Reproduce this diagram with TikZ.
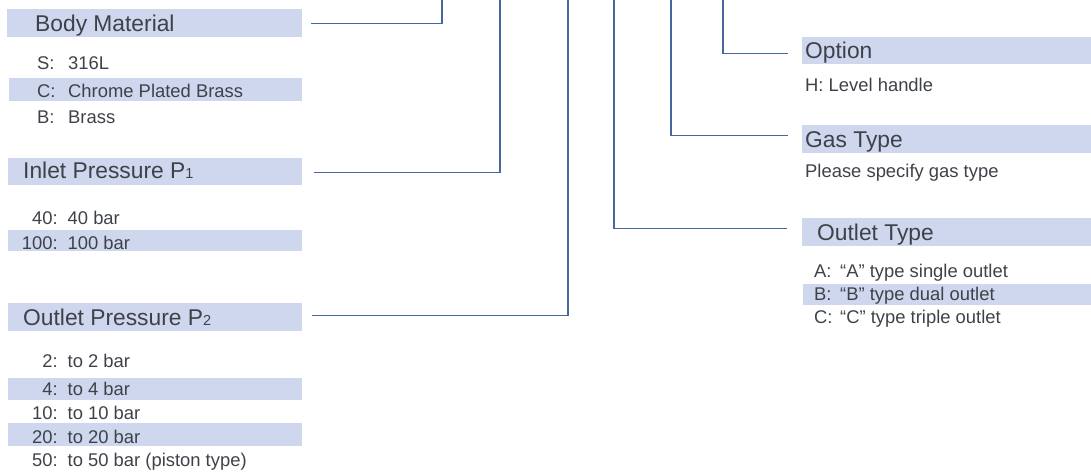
\documentclass[tikz,border=0pt]{standalone}
\usepackage{fontspec}
\setmainfont{Liberation Sans}
\definecolor{barc}{RGB}{206,215,238}
\definecolor{txtc}{RGB}{62,66,72}
\definecolor{linec}{RGB}{72,102,160}
\begin{document}
\begin{tikzpicture}[x=1pt,y=-1pt,
  bar/.style={fill=barc, draw=none, inner sep=0pt, anchor=north west},
  head/.style={anchor=base west, inner sep=0pt, text=txtc, font=\fontsize{22.8}{24}\selectfont},
  item/.style={anchor=base west, inner sep=0pt, text=txtc, font=\fontsize{18.4}{20}\selectfont},
  conn/.style={draw=linec, line width=1.3pt}]
\useasboundingbox (0,0) rectangle (1091,471);
\newcommand{\sub}[1]{{\fontsize{14.5}{15}\selectfont #1}}
\newcommand{\kr}[2]{\makebox[37.5pt][r]{#1}\hspace{10pt}#2}
% ---------- left column: bars ----------
\node[bar, minimum width=295pt, minimum height=28pt] (bm) at (7,9) {};
\node[bar, minimum width=293pt, minimum height=23pt] (bmC) at (9,78) {};
\node[bar, minimum width=294pt, minimum height=27pt] (ip) at (8,158) {};
\node[bar, minimum width=294pt, minimum height=21pt] (ip100) at (8,230) {};
\node[bar, minimum width=294pt, minimum height=28pt] (op) at (8,303) {};
\node[bar, minimum width=294pt, minimum height=22pt] (op4) at (8,378) {};
\node[bar, minimum width=294pt, minimum height=23pt] (op20) at (8,423) {};
% ---------- right column: bars ----------
\node[bar, minimum width=289pt, minimum height=27pt] (opt) at (802,37) {};
\node[bar, minimum width=289pt, minimum height=28pt] (gas) at (802,125) {};
\node[bar, minimum width=289pt, minimum height=28pt] (ot) at (802,218) {};
\node[bar, minimum width=288pt, minimum height=21pt] (otB) at (803,284) {};
% ---------- left column: texts ----------
\node[head] (bmt) at (35,31) {Body Material};
\node[item] (bmS) at (37,69) {\makebox[31pt][l]{S:}316L};
\node[item] (bmCt) at (37,97) {\makebox[31pt][l]{C:}Chrome Plated Brass};
\node[item] (bmB) at (37,123) {\makebox[31pt][l]{B:}Brass};
\node[head] (ipt) at (23,178) {Inlet Pressure P\sub{1}};
\node[item] (ip40) at (20,224) {\kr{40:}{40 bar}};
\node[item] (ip100t) at (20,249) {\kr{100:}{100 bar}};
\node[head] (opt2) at (23,325) {Outlet Pressure P\sub{2}};
\node[item] (op2) at (20,367) {\kr{2:}{to 2 bar}};
\node[item] (op4t) at (20,395) {\kr{4:}{to 4 bar}};
\node[item] (op10) at (20,419) {\kr{10:}{to 10 bar}};
\node[item] (op20t) at (20,443) {\kr{20:}{to 20 bar}};
\node[item] (op50) at (20,466) {\kr{50:}{to 50 bar (piston type)}};
% ---------- right column: texts ----------
\node[head] (optt) at (805,58) {Option};
\node[item] (optH) at (805,91) {H: Level handle};
\node[head] (gast) at (805,147) {Gas Type};
\node[item] (gasP) at (805,177) {Please specify gas type};
\node[head] (ott) at (817,240) {Outlet Type};
\node[item] (otA) at (814,277) {\makebox[26pt][l]{A:}“A” type single outlet};
\node[item] (otBt) at (814,300) {\makebox[26pt][l]{B:}“B” type dual outlet};
\node[item] (otC) at (814,323) {\makebox[26pt][l]{C:}“C” type triple outlet};
% ---------- connector ends at the top ----------
\coordinate (t1) at (442,0);
\coordinate (t2) at (500,0);
\coordinate (t3) at (568,0);
\coordinate (t4) at (614,0);
\coordinate (t5) at (671,0);
\coordinate (t6) at (723,0);
% ---------- connectors ----------
\draw[conn] ([xshift=9pt]bm.east) -| (t1);
\draw[conn] ([xshift=12pt,yshift=-0.5pt]ip.east) -| (t2);
\draw[conn] ([xshift=10pt,yshift=2pt]op.east) -| (t3);
\draw[conn] ([xshift=-15pt,yshift=4pt]ot.west) -| (t4);
\draw[conn] ([xshift=-14pt,yshift=4pt]gas.west) -| (t5);
\draw[conn] ([xshift=-14pt,yshift=-2.5pt]opt.west) -| (t6);
\end{tikzpicture}
\end{document}
